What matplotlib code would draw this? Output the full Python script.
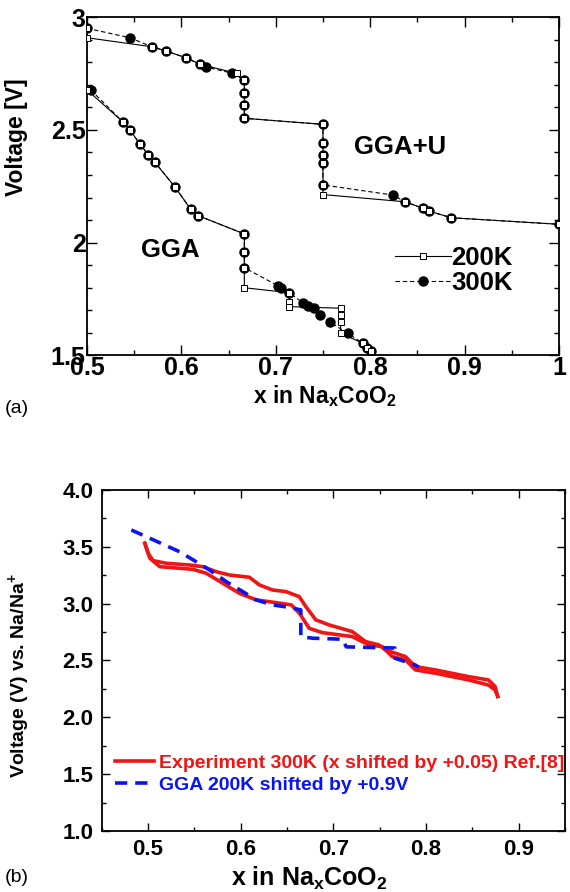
import matplotlib
matplotlib.use("Agg")
import matplotlib.pyplot as plt
from matplotlib.ticker import MultipleLocator, FormatStrFormatter

plt.rcParams["font.family"] = ["Liberation Sans", "DejaVu Sans"]
plt.rcParams["font.weight"] = "bold"
plt.rcParams["axes.labelweight"] = "bold"
plt.rcParams["mathtext.fontset"] = "custom"
plt.rcParams["mathtext.rm"] = "Liberation Sans:bold"
plt.rcParams["mathtext.bf"] = "Liberation Sans:bold"
plt.rcParams["mathtext.it"] = "Liberation Sans:bold"

# ==========================================
# Panel (a): calculated voltage curves
# ==========================================
ggau_200k_x = [0.5, 0.5, 0.5685, 0.5837, 0.605, 0.6197, 0.6585, 0.6667, 0.6667, 0.6667, 0.6667,
               0.75, 0.75, 0.75, 0.75, 0.75, 0.75, 0.837, 0.856, 0.862, 0.886, 1.0]
ggau_200k_v = [2.952, 2.91, 2.87, 2.851, 2.821, 2.792, 2.752, 2.722, 2.663, 2.611, 2.552,
               2.525, 2.441, 2.389, 2.352, 2.256, 2.213, 2.181, 2.152, 2.14, 2.11, 2.081]

ggau_300k_x = [0.5, 0.5455, 0.5685, 0.5837, 0.605, 0.6197, 0.626, 0.654, 0.6667, 0.6667, 0.6667, 0.6667,
               0.75, 0.75, 0.75, 0.75, 0.75, 0.824, 0.837, 0.856, 0.862, 0.886, 1.0]
ggau_300k_v = [2.952, 2.91, 2.87, 2.851, 2.821, 2.792, 2.78, 2.752, 2.722, 2.663, 2.611, 2.552,
               2.525, 2.441, 2.389, 2.352, 2.256, 2.211, 2.181, 2.152, 2.14, 2.11, 2.081]

gga_200k_x = [0.5, 0.5378, 0.5455, 0.556, 0.565, 0.572, 0.593, 0.610, 0.618, 0.6667, 0.6667, 0.6667,
              0.6667, 0.7143, 0.7143, 0.7143, 0.7687, 0.7687, 0.7687, 0.7687, 0.7927, 0.797, 0.8005]
gga_200k_v = [2.678, 2.537, 2.5, 2.438, 2.389, 2.356, 2.248, 2.147, 2.119, 2.038, 1.959, 1.888,
              1.799, 1.777, 1.737, 1.715, 1.708, 1.678, 1.648, 1.596, 1.552, 1.533, 1.52]

gga_300k_x = [0.504, 0.5378, 0.5455, 0.556, 0.565, 0.572, 0.593, 0.610, 0.618, 0.6667, 0.6667, 0.6667,
              0.7027, 0.706, 0.7143, 0.7292, 0.7345, 0.74, 0.7468, 0.757, 0.776, 0.7927, 0.797, 0.8005]
gga_300k_v = [2.678, 2.537, 2.5, 2.438, 2.389, 2.356, 2.248, 2.147, 2.119, 2.038, 1.959, 1.888,
              1.807, 1.80, 1.777, 1.73, 1.719, 1.708, 1.678, 1.648, 1.596, 1.552, 1.533, 1.52]

# ==========================================
# Panel (b): experiment vs shifted GGA
# ==========================================
exp_upper_x = [0.4966, 0.5001, 0.5055, 0.5199, 0.545, 0.5593, 0.5737, 0.588, 0.6095, 0.6202, 0.6345,
               0.6489, 0.6632, 0.6704, 0.6812, 0.6955, 0.7205, 0.7349, 0.7493, 0.7565, 0.778, 0.7887,
               0.8102, 0.846, 0.8675, 0.8747, 0.8775]
exp_upper_v = [3.531, 3.443, 3.378, 3.355, 3.34, 3.325, 3.281, 3.252, 3.232, 3.165, 3.12,
               3.106, 3.062, 2.974, 2.857, 2.813, 2.754, 2.666, 2.637, 2.593, 2.534, 2.446,
               2.417, 2.358, 2.329, 2.272, 2.184]

exp_lower_x = [0.4966, 0.502, 0.5127, 0.527, 0.5485, 0.5629, 0.5808, 0.5987, 0.6167, 0.6382, 0.6547,
               0.6636, 0.674, 0.6883, 0.7205, 0.7385, 0.7528, 0.7636, 0.778, 0.7887, 0.8102, 0.846,
               0.8675, 0.8747, 0.8775]
exp_lower_v = [3.531, 3.40, 3.325, 3.316, 3.302, 3.267, 3.179, 3.091, 3.033, 3.009, 2.989,
               2.915, 2.783, 2.745, 2.71, 2.637, 2.622, 2.534, 2.505, 2.417, 2.388, 2.329,
               2.284, 2.241, 2.184]

gga_shift_x = [0.482, 0.502, 0.534, 0.552, 0.5665, 0.5844, 0.6023, 0.6167, 0.6345, 0.652, 0.665,
               0.665, 0.6775, 0.71, 0.714, 0.749, 0.7665, 0.7665, 0.7887, 0.7923]
gga_shift_v = [3.648, 3.575, 3.457, 3.369, 3.296, 3.194, 3.106, 3.033, 2.989, 2.968, 2.945,
               2.71, 2.696, 2.687, 2.62, 2.613, 2.61, 2.52, 2.46, 2.44]

fig = plt.figure(figsize=(5.70, 8.92), dpi=100)

# ---------------- (a) ----------------
ax1 = fig.add_axes([0.1526, 0.602, 0.828, 0.3784])
ax1.plot(gga_300k_x, gga_300k_v, "k--", lw=0.8, dashes=(4, 2.5), marker="o", ms=6.5,
         mfc="k", mec="k", zorder=2)
ax1.plot(ggau_300k_x, ggau_300k_v, "k--", lw=0.8, dashes=(4, 2.5), marker="o", ms=6.5,
         mfc="k", mec="k", zorder=2, label="300K")
ax1.plot(gga_200k_x, gga_200k_v, "k-", lw=0.8, marker="s", ms=4.3, mfc="white",
         mec="k", mew=0.7, zorder=3)
ax1.plot(ggau_200k_x, ggau_200k_v, "k-", lw=0.8, marker="s", ms=4.3, mfc="white",
         mec="k", mew=0.7, zorder=3, label="200K")

ax1.set_xlim(0.5, 1.0)
ax1.set_ylim(1.5, 3.0)
ax1.xaxis.set_major_locator(MultipleLocator(0.1))
ax1.xaxis.set_minor_locator(MultipleLocator(0.05))
ax1.yaxis.set_major_locator(MultipleLocator(0.5))
ax1.yaxis.set_minor_locator(MultipleLocator(0.1))
ax1.xaxis.set_major_formatter(FormatStrFormatter("%g"))
ax1.yaxis.set_major_formatter(FormatStrFormatter("%g"))
ax1.tick_params(which="both", direction="in", top=True, right=True, labelsize=18, pad=1)
ax1.tick_params(which="major", length=7, width=1)
ax1.tick_params(which="minor", length=3.5, width=1)
for s in ax1.spines.values():
    s.set_linewidth(1.3)

ax1.text(0.8316, 2.424, "GGA+U", fontsize=18.5, ha="center", va="center")
ax1.text(0.588, 1.967, "GGA", fontsize=18.5, ha="center", va="center")

h, l = ax1.get_legend_handles_labels()
ax1.legend(h[::-1], l[::-1], loc="center left", bbox_to_anchor=(0.625, 0.25), frameon=False,
           fontsize=18.5, handlelength=2.2, handletextpad=0.0, labelspacing=0.05, borderpad=0)

ax1.set_ylabel("Voltage [V]", fontsize=16.5)
ax1.yaxis.set_label_coords(-0.125, 0.646)
ax1.set_xlabel(r"x in Na$_{x}$CoO$_{2}$", fontsize=16.5)
ax1.xaxis.set_label_coords(0.504, -0.083)
fig.text(0.009, 0.5426, "(a)", fontsize=14, fontweight="normal", va="center")

# ---------------- (b) ----------------
ax2 = fig.add_axes([0.1784, 0.0684, 0.8125, 0.3823])
red = "#f01414"
blue = "#0a14f0"
ax2.plot(exp_upper_x, exp_upper_v, color=red, lw=2.6,
         label="Experiment 300K (x shifted by +0.05) Ref.[8]")
ax2.plot(exp_lower_x, exp_lower_v, color=red, lw=2.6)
ax2.plot(gga_shift_x, gga_shift_v, color=blue, lw=2.6, ls="--", dashes=(3.4, 2.2),
         label="GGA 200K shifted by +0.9V")

ax2.set_xlim(0.45, 0.95)
ax2.set_ylim(1.0, 4.0)
ax2.xaxis.set_major_locator(MultipleLocator(0.1))
ax2.xaxis.set_minor_locator(MultipleLocator(0.05))
ax2.yaxis.set_major_locator(MultipleLocator(0.5))
ax2.yaxis.set_minor_locator(MultipleLocator(0.25))
ax2.yaxis.set_major_formatter(FormatStrFormatter("%.1f"))
ax2.tick_params(which="both", direction="in", top=True, right=True, labelsize=16, pad=6)
ax2.tick_params(which="major", length=5.5, width=1)
ax2.tick_params(which="minor", length=3, width=1)
for s in ax2.spines.values():
    s.set_linewidth(1.3)

ax2.legend(loc="lower left", bbox_to_anchor=(0.0, 0.07), frameon=False, fontsize=14,
           handlelength=2.0, handletextpad=0.25, labelspacing=0.2, borderpad=0.2,
           labelcolor="linecolor")

ax2.set_ylabel(r"Voltage (V) vs. Na/Na$^{+}$", fontsize=14)
ax2.yaxis.set_label_coords(-0.1505, 0.457)
ax2.set_xlabel(r"x in Na$_{x}$CoO$_{2}$", fontsize=18)
ax2.xaxis.set_label_coords(0.448, -0.1)
fig.text(0.009, 0.0157, "(b)", fontsize=14, fontweight="normal", va="center")

fig.savefig("out.png", dpi=100)
